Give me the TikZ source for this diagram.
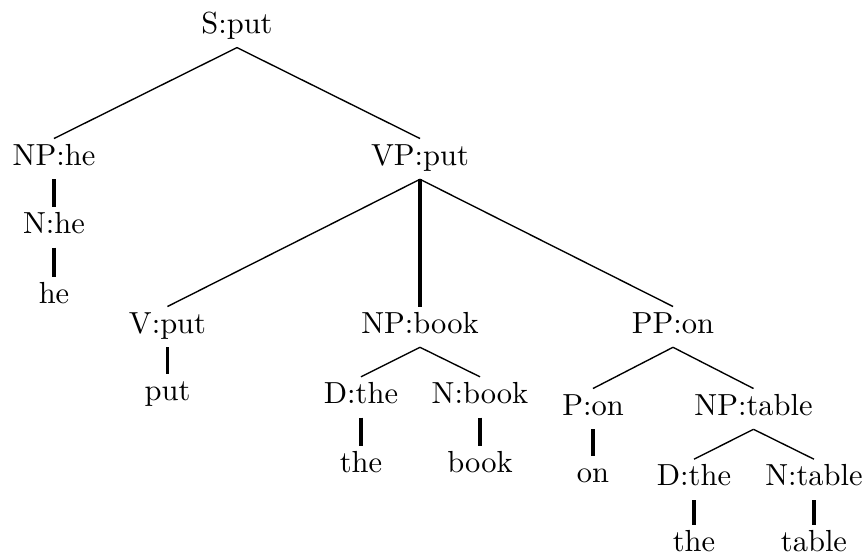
\documentclass[tikz,border=0pt]{standalone}
\begin{document}
\begin{tikzpicture}[x=0.328pt,y=-0.328pt,
  lab/.style={anchor=base,inner sep=0pt},
  edgeline/.style={line width=0.45pt},
  vedge/.style={line width=1.1pt}]
\useasboundingbox (0,0) rectangle (867,559);
\node[lab] (S) at (237,33.3) {S:put};
\node[lab] (NPhe) at (54,165) {NP:he};
\node[lab] (VP) at (420,165) {VP:put};
\node[lab] (Nhe) at (54,233.3) {N:he};
\node[lab] (he) at (54,303.3) {he};
\node[lab] (V) at (167.5,333) {V:put};
\node[lab] (NPbook) at (420,333) {NP:book};
\node[lab] (PP) at (673,333) {PP:on};
\node[lab] (put) at (167.5,400) {put};
\node[lab] (Dthe) at (361,403.3) {D:the};
\node[lab] (Nbook) at (480,403.3) {N:book};
\node[lab] (Pon) at (593,415) {P:on};
\node[lab] (NPtable) at (753.5,415) {NP:table};
\node[lab] (theA) at (361,472.3) {the};
\node[lab] (book) at (480,472.3) {book};
\node[lab] (on) at (593,482.7) {on};
\node[lab] (Dthe2) at (694,485.7) {D:the};
\node[lab] (Ntable) at (814,485.7) {N:table};
\node[lab] (theB) at (694,551) {the};
\node[lab] (table) at (814,551) {table};
\newcommand{\treeedge}[3][edgeline]{\draw[#1] ([yshift=-4.69pt]#2.base) -- ([yshift=8.69pt]#3.base);}
\treeedge{S}{NPhe}
\treeedge{S}{VP}
\treeedge[vedge]{NPhe}{Nhe}
\treeedge[vedge]{Nhe}{he}
\treeedge{VP}{V}
\treeedge[vedge]{VP}{NPbook}
\treeedge{VP}{PP}
\treeedge[vedge]{V}{put}
\treeedge{NPbook}{Dthe}
\treeedge{NPbook}{Nbook}
\treeedge[vedge]{Dthe}{theA}
\treeedge[vedge]{Nbook}{book}
\treeedge{PP}{Pon}
\treeedge{PP}{NPtable}
\treeedge[vedge]{Pon}{on}
\treeedge{NPtable}{Dthe2}
\treeedge{NPtable}{Ntable}
\treeedge[vedge]{Dthe2}{theB}
\treeedge[vedge]{Ntable}{table}
\end{tikzpicture}
\end{document}
